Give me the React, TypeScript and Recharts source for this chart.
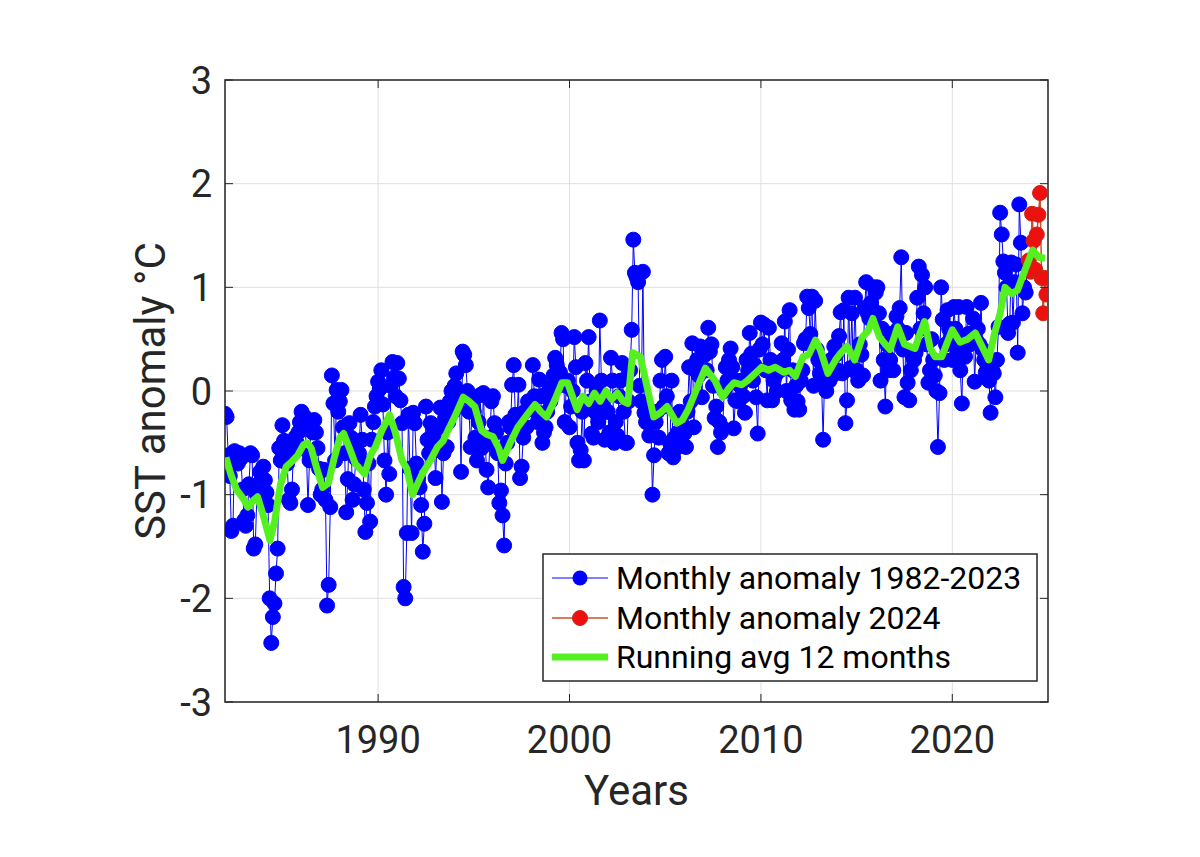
import React from 'react';
import { LineChart, Line, XAxis, YAxis, CartesianGrid, ReferenceArea } from 'recharts';

// monthly SST anomalies (°C), one row per year, Jan..Dec
const anom1980s = [
  -0.22, -0.25, -0.62, -0.82, -1.35, -1.30, -0.58, -0.66, -0.70, -0.60, -0.65, -0.95, // 1982
  -1.25, -1.30, -1.20, -0.90, -0.60, -0.62, -1.52, -1.48, -1.00, -0.95, -0.78, -0.85, // 1983
  -0.73, -0.86, -0.98, -1.10, -2.00, -2.43, -2.18, -2.05, -1.76, -1.52, -0.55, -0.67, // 1984
  -0.33, -0.48, -0.60, -0.70, -1.05, -1.08, -0.95, -0.55, -0.45, -0.50, -0.40, -0.30, // 1985
  -0.20, -0.31, -0.25, -0.57, -1.10, -0.67, -0.30, -0.40, -0.28, -0.40, -0.55, -0.75, // 1986
  -1.00, -0.95, -0.76, -1.05, -2.07, -1.87, -1.12, 0.15, -0.12, -0.67, 0.01, -0.20, // 1987
  -0.10, 0.01, -0.35, -0.60, -1.17, -0.85, -0.31, -0.45, -1.05, -0.90, -0.65, -0.50, // 1988
  -0.60, -0.23, -0.47, -0.95, -1.36, -1.08, -0.70, -1.26, -0.47, -0.30, -0.15, -0.05, // 1989
];
const anom1990s = [
  0.09, 0.02, 0.20, -0.13, -0.67, -1.00, -0.40, -0.80, 0.05, 0.28, 0.13, -0.05, // 1990
  0.27, 0.12, -0.09, -0.31, -1.89, -2.00, -1.37, -0.23, -0.75, -1.37, -0.21, -0.31, // 1991
  -0.70, -0.85, -0.93, -1.10, -1.55, -1.28, -0.15, -0.47, -0.60, -0.31, -0.55, -0.40, // 1992
  -0.84, -0.50, -0.35, -0.16, -1.07, -0.60, -0.26, -0.54, -0.30, -0.10, 0.00, -0.20, // 1993
  0.05, 0.17, -0.10, -0.05, -0.78, 0.38, 0.35, 0.25, 0.00, -0.20, -0.54, -0.10, // 1994
  -0.20, -0.45, -0.67, -0.30, -0.04, -0.55, -0.02, -0.45, -0.76, -0.93, -0.50, -0.10, // 1995
  -0.05, -0.31, -0.40, -0.60, -1.08, -0.96, -1.20, -1.49, -0.70, -0.50, -0.30, -0.35, // 1996
  0.06, 0.25, -0.23, -0.30, 0.06, -0.84, -0.73, -0.45, -0.20, -0.35, -0.10, -0.15, // 1997
  -0.10, 0.25, -0.05, -0.20, -0.30, 0.11, -0.05, -0.50, -0.40, -0.35, -0.20, 0.00, // 1998
  -0.10, 0.05, 0.15, 0.32, 0.25, 0.05, 0.18, 0.56, 0.50, -0.30, 0.05, 0.10, // 1999
];
const anom2000s = [
  -0.35, -0.15, 0.00, 0.52, 0.23, -0.50, -0.67, -0.57, -0.20, -0.67, 0.27, 0.10, // 2000
  0.52, -0.10, -0.41, -0.45, -0.20, 0.00, -0.30, 0.68, 0.10, -0.10, -0.47, -0.20, // 2001
  -0.20, -0.40, 0.32, 0.10, -0.50, -0.30, -0.43, -0.05, 0.10, 0.27, -0.20, -0.50, // 2002
  -0.50, -0.10, 0.20, 0.59, 1.46, 1.14, 1.10, 1.05, 0.05, -0.10, 1.15, -0.21, // 2003
  -0.30, -0.20, -0.43, -0.30, -1.00, -0.62, -0.30, -0.20, -0.45, 0.10, 0.30, -0.15, // 2004
  0.33, -0.05, -0.60, -0.50, 0.10, -0.64, -0.45, -0.55, -0.40, -0.20, -0.30, -0.41, // 2005
  -0.41, -0.54, -0.20, 0.23, -0.10, 0.46, -0.35, 0.20, 0.30, 0.15, 0.43, -0.06, // 2006
  0.40, 0.35, 0.20, 0.61, 0.38, 0.45, 0.05, -0.26, -0.15, -0.54, -0.30, -0.40, // 2007
  -0.36, 0.00, 0.23, 0.10, 0.30, 0.41, 0.23, -0.36, -0.09, 0.10, -0.10, 0.05, // 2008
  0.10, -0.05, -0.21, 0.30, 0.20, 0.56, 0.36, 0.10, 0.25, -0.06, -0.41, 0.40, // 2009
];
const anom2010s = [
  0.66, 0.45, 0.64, 0.20, -0.09, 0.61, 0.30, -0.09, 0.10, 0.15, 0.00, 0.20, // 2010
  0.20, 0.46, 0.30, 0.67, 0.00, 0.40, 0.78, -0.09, 0.20, -0.18, 0.05, -0.10, // 2011
  -0.18, 0.10, 0.20, 0.46, 0.50, 0.91, 0.80, 0.55, 0.91, 0.05, 0.87, 0.40, // 2012
  0.30, 0.17, 0.10, -0.47, 0.20, 0.00, 0.25, 0.10, 0.30, 0.15, 0.43, 0.35, // 2013
  0.20, 0.53, 0.76, 0.17, 0.78, -0.31, -0.09, 0.90, 0.22, 0.75, 0.20, 0.90, // 2014
  0.20, 0.10, 0.45, 0.35, 0.15, 0.80, 1.05, 0.75, 0.70, 0.85, 0.70, 1.00, // 2015
  0.95, 1.00, 0.75, 0.10, 0.60, 0.30, -0.15, 0.45, 0.20, 0.30, 0.55, 0.20, // 2016
  0.50, 0.72, 0.60, 0.80, 1.29, 0.40, -0.06, 0.56, 0.08, -0.09, 0.20, 0.35, // 2017
  0.30, 0.37, 0.90, 1.20, 0.60, 1.12, 0.75, 1.00, 0.45, 0.08, 0.20, 0.50, // 2018
  0.30, 0.15, 0.00, -0.54, -0.02, 1.00, 0.69, 0.30, 0.45, 0.78, 0.60, 0.50, // 2019
];
const anom2020s = [
  0.30, 0.81, 0.60, 0.40, 0.81, 0.20, -0.12, 0.50, 0.33, 0.81, 0.55, 0.45, // 2020
  0.55, 0.70, 0.09, 0.49, 0.60, 0.45, 0.85, 0.40, 0.30, 0.18, 0.25, 0.10, // 2021
  -0.21, 0.20, 0.17, -0.06, 0.30, 0.62, 1.72, 1.51, 1.25, 1.14, 1.00, 0.56, // 2022
  0.65, 1.24, 0.66, 1.05, 1.22, 0.37, 1.80, 1.43, 0.75, 1.00, 0.95, 1.20, // 2023
];
const anom2024 = [1.26, 1.15, 1.71, 1.45, 1.17, 1.51, 1.70, 1.91, 1.09, 0.75, 1.09, 0.93];

// 12-month running average
const avgYears = [
  1982.05, 1982.3, 1982.6, 1983.0, 1983.2, 1983.5, 1983.7, 1984.0, 1984.35, 1984.6, 1984.9,
  1985.2, 1985.5, 1985.8, 1986.1, 1986.3, 1986.5, 1986.8, 1987.1, 1987.4, 1987.7, 1988.0,
  1988.2, 1988.5, 1988.8, 1989.05, 1989.3, 1989.6, 1989.85, 1990.2, 1990.6, 1990.9, 1991.25,
  1991.5, 1991.8, 1992.0, 1992.3, 1992.7, 1993.1, 1993.4, 1993.65, 1994.0, 1994.45, 1994.75,
  1995.05, 1995.4, 1995.7, 1996.0, 1996.3, 1996.5, 1996.9, 1997.3, 1997.7, 1998.2, 1998.5,
  1998.8, 1999.2, 1999.6, 1999.9, 2000.4, 2000.7, 2001.0, 2001.3, 2001.6, 2001.9, 2002.2,
  2002.5, 2002.8, 2003.05, 2003.3, 2003.7, 2004.05, 2004.4, 2004.75, 2005.1, 2005.6, 2005.9,
  2006.2, 2006.6, 2007.1, 2007.6, 2008.0, 2008.3, 2008.6, 2009.0, 2009.3, 2009.7, 2010.05,
  2010.4, 2010.75, 2011.2, 2011.5, 2011.8, 2012.2, 2012.5, 2012.85, 2013.1, 2013.5, 2013.9,
  2014.1, 2014.5, 2014.9, 2015.3, 2015.6, 2015.85, 2016.2, 2016.5, 2016.75, 2017.15, 2017.5,
  2018.05, 2018.3, 2018.55, 2018.85, 2019.1, 2019.45, 2019.7, 2020.0, 2020.4, 2020.8, 2021.2,
  2021.5, 2021.9, 2022.2, 2022.5, 2022.75, 2023.1, 2023.4, 2023.8, 2024.2, 2024.5, 2024.85,
];
const avgValues = [
  -0.64, -0.80, -0.95, -1.05, -1.12, -1.05, -1.02, -1.20, -1.44, -1.25, -0.90,
  -0.73, -0.68, -0.62, -0.52, -0.50, -0.55, -0.75, -0.93, -0.89, -0.65, -0.45,
  -0.41, -0.55, -0.70, -0.75, -0.80, -0.62, -0.54, -0.38, -0.23, -0.40, -0.67,
  -0.75, -1.00, -0.92, -0.80, -0.68, -0.54, -0.48, -0.38, -0.25, -0.06, -0.10,
  -0.15, -0.38, -0.42, -0.44, -0.55, -0.67, -0.50, -0.35, -0.25, -0.13, -0.20,
  -0.25, -0.10, 0.08, 0.08, -0.18, -0.05, -0.12, -0.02, -0.10, 0.00, -0.08,
  -0.02, -0.10, -0.12, 0.37, 0.33, 0.04, -0.25, -0.21, -0.15, -0.31, -0.28,
  -0.18, 0.00, 0.22, 0.10, -0.06, 0.02, 0.08, 0.06, 0.10, 0.17, 0.23,
  0.20, 0.23, 0.18, 0.20, 0.14, 0.33, 0.35, 0.49, 0.40, 0.17, 0.30,
  0.35, 0.43, 0.30, 0.52, 0.58, 0.70, 0.52, 0.45, 0.40, 0.62, 0.45,
  0.41, 0.55, 0.67, 0.41, 0.33, 0.33, 0.45, 0.59, 0.47, 0.50, 0.56,
  0.45, 0.30, 0.55, 0.75, 1.00, 0.94, 0.97, 1.17, 1.36, 1.29, 1.28,
];

const yTicks = [-3, -2, -1, 0, 1, 2, 3];
const xTicks = [1990, 2000, 2010, 2020];
const X_DOMAIN = [1982, 2025];
const Y_DOMAIN = [-3, 3];

const START_YEAR = 1982;
const monthly = [...anom1980s, ...anom1990s, ...anom2000s, ...anom2010s, ...anom2020s];
const blueData = monthly.map((v, i) => ({ x: START_YEAR + i / 12, y: v }));
const redData = anom2024.map((v, i) => ({ x: 2024 + i / 12, y: v }));
const greenData = avgYears.map((x, i) => ({ x, y: avgValues[i] }));

// layout (chart coordinates)
const W = 1184;
const H = 841;
const PLOT_LEFT = 217;
const PLOT_TOP = 72;
const PLOT_RIGHT = 1040;
const PLOT_BOTTOM = 694;
const Y_AXIS_W = 150;
const X_AXIS_H = 110;
const TICK_LEN = 8;
const AXIS_COLOR = '#262626';
const GREEN = '#55f020';
const FONT = 'Roboto, "Noto Sans", sans-serif';

const XTick = (props: any) => {
  const { x, payload } = props;
  return (
    <g>
      <line x1={x} x2={x} y1={PLOT_BOTTOM} y2={PLOT_BOTTOM - TICK_LEN} stroke={AXIS_COLOR} />
      <line x1={x} x2={x} y1={PLOT_TOP} y2={PLOT_TOP + TICK_LEN} stroke={AXIS_COLOR} />
      <text x={x} y={PLOT_BOTTOM + 51} textAnchor="middle" fill={AXIS_COLOR} fontSize={38} fontFamily={FONT}>
        {payload.value}
      </text>
    </g>
  );
};

const YTick = (props: any) => {
  const { y, payload } = props;
  return (
    <g>
      <line x1={PLOT_LEFT} x2={PLOT_LEFT + TICK_LEN} y1={y} y2={y} stroke={AXIS_COLOR} />
      <line x1={PLOT_RIGHT} x2={PLOT_RIGHT - TICK_LEN} y1={y} y2={y} stroke={AXIS_COLOR} />
      <text x={PLOT_LEFT - 13} y={y + 13.5} textAnchor="end" fill={AXIS_COLOR} fontSize={38} fontFamily={FONT}>
        {payload.value}
      </text>
    </g>
  );
};

const LegendBox = () => (
  <svg
    width={496}
    height={129}
    style={{ position: 'absolute', left: 534, top: 545, fontFamily: FONT }}
  >
    <rect x={1} y={1} width={494} height={127} fill="#ffffff" stroke={AXIS_COLOR} strokeWidth={1.5} />
    <line x1={10} x2={66} y1={25} y2={25} stroke="#0000ff" strokeWidth={1} />
    <circle cx={38} cy={25} r={7.5} fill="#0000ff" />
    <text x={74} y={36} fontSize={32} fill="#000">Monthly anomaly 1982-2023</text>
    <line x1={10} x2={66} y1={65} y2={65} stroke="#c8502a" strokeWidth={1.5} />
    <circle cx={38} cy={65} r={7.5} fill="#ee0f0f" stroke="#c8281a" />
    <text x={74} y={76} fontSize={32} fill="#000">Monthly anomaly 2024</text>
    <line x1={10} x2={66} y1={104} y2={104} stroke={GREEN} strokeWidth={7} />
    <text x={74} y={115} fontSize={32} fill="#000">Running avg 12 months</text>
  </svg>
);

export default function App() {
  return (
    <div style={{ position: 'relative', width: W, height: H, background: '#ffffff' }}>
      <LineChart
        width={W}
        height={H}
        margin={{ top: PLOT_TOP, right: W - PLOT_RIGHT, left: PLOT_LEFT - Y_AXIS_W, bottom: H - PLOT_BOTTOM - X_AXIS_H }}
      >
        <CartesianGrid stroke="#dfdfdf" strokeWidth={1} />
        <XAxis
          type="number"
          dataKey="x"
          domain={X_DOMAIN}
          ticks={xTicks}
          interval={0}
          allowDataOverflow
          height={X_AXIS_H}
          axisLine={false}
          tickLine={false}
          tickSize={0}
          tick={<XTick />}
          label={{ value: 'Years', position: 'insideBottom', offset: 7, fontSize: 42, fill: AXIS_COLOR, fontFamily: FONT }}
        />
        <YAxis
          type="number"
          domain={Y_DOMAIN}
          ticks={yTicks}
          interval={0}
          allowDataOverflow
          width={Y_AXIS_W}
          axisLine={false}
          tickLine={false}
          tickSize={0}
          tick={<YTick />}
          label={{ value: 'SST anomaly °C', angle: -90, position: 'center', fontSize: 42, fill: AXIS_COLOR, fontFamily: FONT }}
        />
        <ReferenceArea x1={1982} x2={2025} y1={-3} y2={3} fill="none" stroke={AXIS_COLOR} strokeWidth={1.5} />
        <Line
          data={blueData}
          dataKey="y"
          type="linear"
          stroke="#0000ff"
          strokeWidth={1}
          dot={{ r: 7.5, fill: '#0000ff', stroke: '#0000ff', strokeWidth: 1 }}
          activeDot={false}
          isAnimationActive={false}
        />
        <Line
          data={redData}
          dataKey="y"
          type="linear"
          stroke="#c8502a"
          strokeWidth={1.5}
          dot={{ r: 7.5, fill: '#ee0f0f', stroke: '#c8281a', strokeWidth: 1 }}
          activeDot={false}
          isAnimationActive={false}
        />
      </LineChart>
      {/* running average drawn in an overlay so it sits above all markers */}
      <div style={{ position: 'absolute', left: 0, top: 0 }}>
        <LineChart
          width={W}
          height={H}
          margin={{ top: PLOT_TOP, right: W - PLOT_RIGHT, left: PLOT_LEFT, bottom: H - PLOT_BOTTOM }}
        >
          <XAxis type="number" dataKey="x" domain={X_DOMAIN} allowDataOverflow hide />
          <YAxis type="number" domain={Y_DOMAIN} allowDataOverflow hide />
          <Line
            data={greenData}
            dataKey="y"
            type="linear"
            stroke={GREEN}
            strokeWidth={7}
            strokeLinejoin="round"
            dot={false}
            activeDot={false}
            isAnimationActive={false}
          />
        </LineChart>
      </div>
      <LegendBox />
    </div>
  );
}
